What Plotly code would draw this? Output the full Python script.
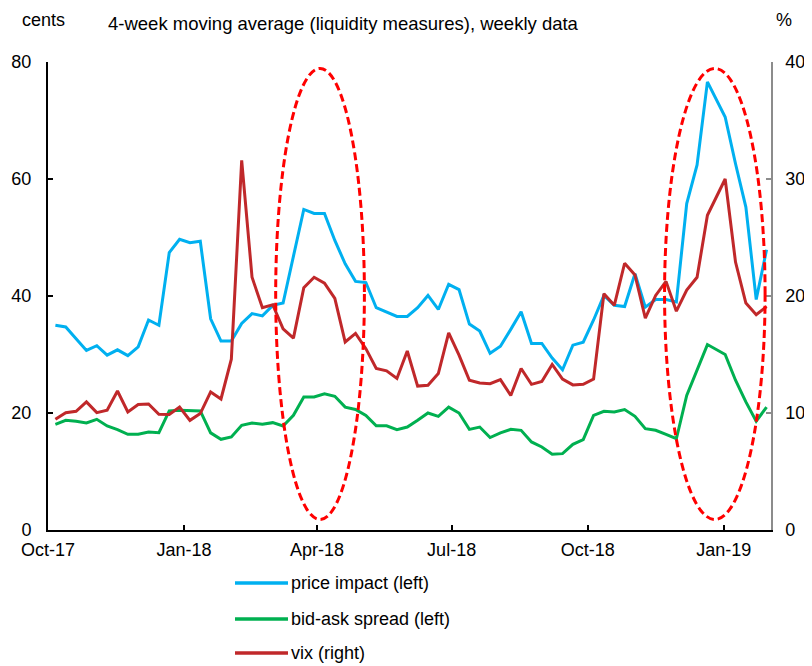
import pandas as pd
import plotly.graph_objects as go

# ---- data (weekly observations) ----
week_dates = list(pd.date_range("2017-10-06", periods=64, freq="7D").strftime("%Y-%m-%d")) + \
    ["2019-01-02", "2019-01-09", "2019-01-16", "2019-01-23", "2019-01-30"]

price_impact = [35.0, 34.7, 32.7, 30.7, 31.5, 29.9, 30.8, 29.8, 31.3, 35.9, 35.0,
                47.4, 49.7, 49.1, 49.35, 36.1, 32.3, 32.3, 35.3, 37.0, 36.6, 38.4, 38.8,
                46.7, 54.8, 54.1, 54.1, 49.5, 45.5, 42.5, 42.3, 38.0, 37.2, 36.5, 36.5,
                38.0, 40.1, 37.7, 42.0, 41.1, 35.2, 34.0, 30.2, 31.4, 34.3, 37.3,
                31.9, 31.9, 29.4, 27.4, 31.6, 32.1, 35.9, 40.1, 38.4, 38.2, 43.8, 38.1,
                39.4, 39.4, 39.0, 55.8, 62.4, 76.6, 70.6, 62.6, 55.2, 39.4, 47.9]

bid_ask_spread = [18.07, 18.75, 18.58, 18.3, 18.92, 17.78, 17.16, 16.36, 16.36, 16.76, 16.64,
                  20.35, 20.46, 20.46, 20.35, 16.6, 15.5, 15.9, 17.9, 18.3, 18.07, 18.35, 17.78,
                  19.6, 22.74, 22.74, 23.3, 22.85, 21.0, 20.6, 19.6, 17.8, 17.8, 17.16, 17.6,
                  18.75, 20.0, 19.43, 21.0, 20.0, 17.2, 17.6, 15.8, 16.6, 17.2, 17.04,
                  15.05, 14.2, 12.94, 13.05, 14.65, 15.45, 19.6, 20.29, 20.18, 20.58, 19.43, 17.33,
                  17.04, 16.36, 15.6, 23.0, 27.3, 31.7, 30.0, 25.6, 21.9, 18.6, 21.0]

vix = [9.46, 10.03, 10.15, 10.95, 10.03, 10.23, 11.88, 10.09, 10.72, 10.77, 9.89,
       9.87, 10.5, 9.37, 9.95, 11.8, 11.2, 14.6, 31.6, 21.6, 19.0, 19.25, 17.2,
       16.4, 20.7, 21.6, 21.1, 19.8, 16.07, 16.8, 15.5, 13.8, 13.6, 12.95, 15.3,
       12.3, 12.37, 13.37, 16.85, 14.95, 12.8, 12.57, 12.5, 12.85, 11.5, 13.8,
       12.45, 12.7, 14.15, 12.9, 12.4, 12.45, 12.9, 20.2, 19.2, 22.8, 21.8, 18.1,
       20.05, 21.25, 18.7, 20.5, 21.6, 26.9, 30.0, 22.9, 19.4, 18.4, 19.1]

series_names = ["price impact (left)", "bid-ask spread (left)", "vix (right)"]
series_colors = ["#00B0F0", "#00B050", "#C0282A"]

x_ticks = ["2017-10-01", "2018-01-01", "2018-04-01", "2018-07-01", "2018-10-01", "2019-01-01"]
left_ticks = [0, 20, 40, 60, 80]
right_ticks = [0, 10, 20, 30, 40]

# highlighted episodes (dashed ellipses)
highlight_windows = [("2018-03-04", "2018-05-03"), ("2018-11-22", "2019-01-29")]
highlight_y = (1.8, 78.9)

FONT = "Liberation Sans, Arial, sans-serif"
FS = 18
OFF = 8  # default page body margin of the html page
PAGE_W, PAGE_H = 812, 666
W, H = PAGE_W - OFF, PAGE_H - OFF
# plot area in page pixels: x 48..771, y 62..530
PL, PR, PT, PB = 48, 771, 62, 530
ML, MT = PL - OFF, PT - OFF
MR, MB = PAGE_W - PR, PAGE_H - PB
PW, PH = PR - PL, PB - PT


def px(x):
    return (x - PL) / PW


def py(y):
    return (PB - y) / PH


fig = go.Figure()
fig.add_trace(go.Scatter(x=week_dates, y=price_impact, mode="lines", name=series_names[0],
                         line=dict(color=series_colors[0], width=3), yaxis="y"))
fig.add_trace(go.Scatter(x=week_dates, y=bid_ask_spread, mode="lines", name=series_names[1],
                         line=dict(color=series_colors[1], width=3), yaxis="y"))
fig.add_trace(go.Scatter(x=week_dates, y=vix, mode="lines", name=series_names[2],
                         line=dict(color=series_colors[2], width=3), yaxis="y2"))

shapes = []
for x0, x1 in highlight_windows:
    shapes.append(dict(type="circle", xref="x", yref="y", x0=x0, x1=x1,
                       y0=highlight_y[0], y1=highlight_y[1], layer="above",
                       line=dict(color="#FF0000", width=3, dash="8px,4px")))

# manual legend below the plot
annotations = []
legend_rows = [583, 619, 653]
for name, color, yrow in zip(series_names, series_colors, legend_rows):
    shapes.append(dict(type="line", xref="paper", yref="paper",
                       x0=px(235), x1=px(288), y0=py(yrow), y1=py(yrow),
                       line=dict(color=color, width=3.5)))
    annotations.append(dict(xref="paper", yref="paper", x=px(289), y=py(yrow),
                            xanchor="left", yanchor="middle", text=name, showarrow=False,
                            font=dict(family=FONT, size=FS, color="#000")))

annotations += [
    dict(xref="paper", yref="paper", x=px(43), y=py(OFF), xanchor="center", yanchor="top",
         text="cents", showarrow=False, font=dict(family=FONT, size=FS, color="#000")),
    dict(xref="paper", yref="paper", x=px(106), y=py(23), xanchor="left", yanchor="middle",
         text="4-week moving average (liquidity measures), weekly data", showarrow=False,
         font=dict(family=FONT, size=18.5, color="#000")),
    dict(xref="paper", yref="paper", x=px(784), y=py(OFF), xanchor="center", yanchor="top",
         text="%", showarrow=False, font=dict(family=FONT, size=FS, color="#000")),
]

fig.update_layout(
    width=W, height=H,
    margin=dict(l=ML, r=MR, t=MT, b=MB, pad=0, autoexpand=False),
    paper_bgcolor="white", plot_bgcolor="white",
    showlegend=False,
    font=dict(family=FONT, size=FS, color="#000"),
    xaxis=dict(type="date", range=["2017-10-01", "2019-02-02"], automargin=False,
               tickvals=x_ticks, tickformat="%b-%y",
               showgrid=False, zeroline=False, showline=True, linecolor="#000", linewidth=2,
               ticks="inside", ticklen=5, tickwidth=1.5, tickcolor="#000",
               ticklabelstandoff=2,
               tickfont=dict(family=FONT, size=FS, color="#000")),
    yaxis=dict(range=[0, 80], tickvals=left_ticks, showgrid=False, zeroline=False, automargin=False,
               showline=True, linecolor="#000", linewidth=2,
               ticks="inside", ticklen=5, tickwidth=1.5, tickcolor="#000",
               ticklabelstandoff=11,
               tickfont=dict(family=FONT, size=FS, color="#000")),
    yaxis2=dict(range=[0, 40], tickvals=right_ticks, overlaying="y", side="right", automargin=False,
                showgrid=False, zeroline=False, showline=True, linecolor="#8C8C8C", linewidth=1.5,
                ticks="inside", ticklen=5, tickwidth=1.5, tickcolor="#8C8C8C",
                ticklabelstandoff=9,
                tickfont=dict(family=FONT, size=FS, color="#000")),
    shapes=shapes,
    annotations=annotations,
)

fig.write_html("out.html")
